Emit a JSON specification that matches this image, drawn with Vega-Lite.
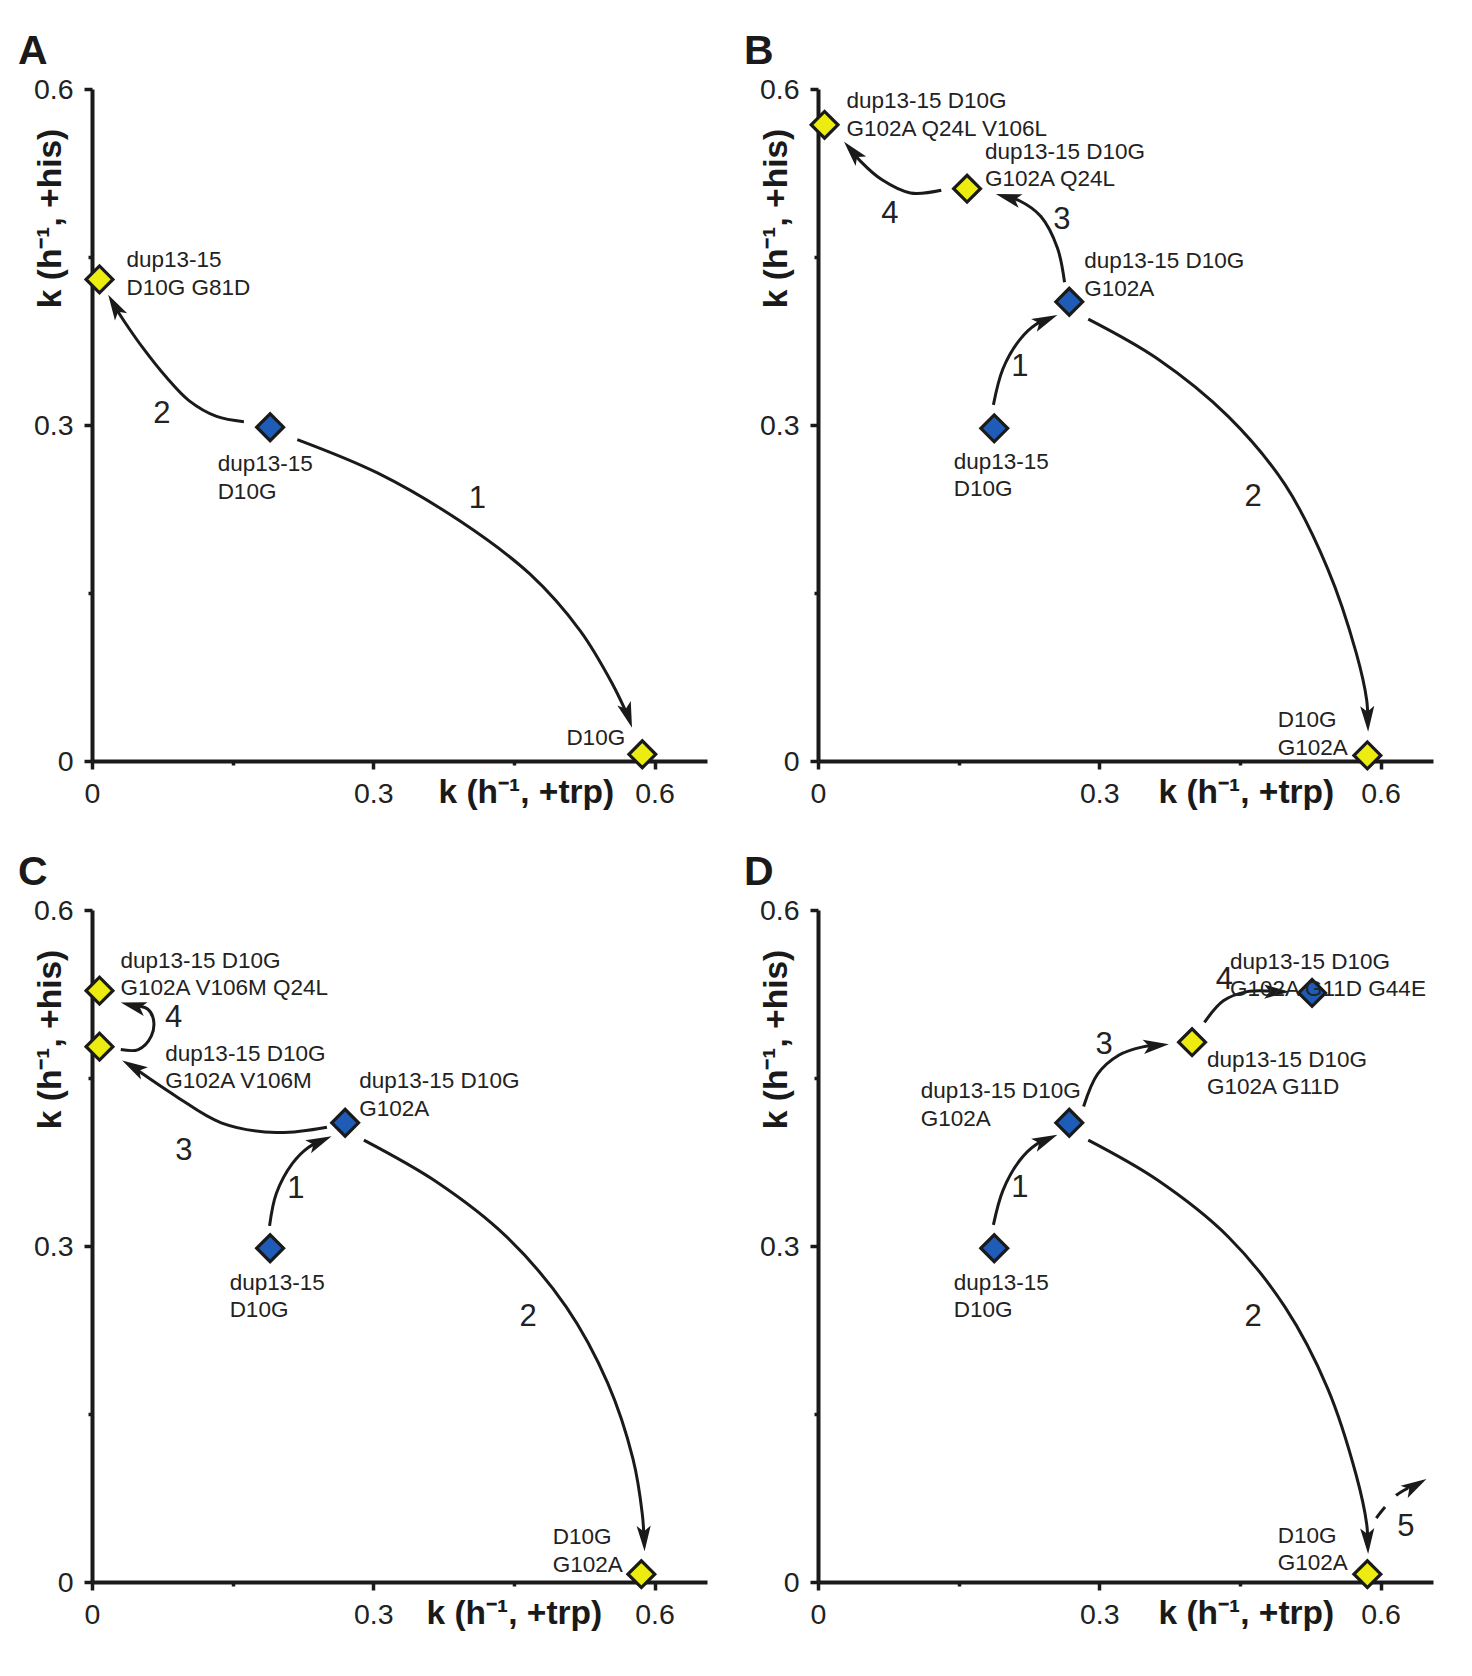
{
  "$schema": "https://vega.github.io/schema/vega-lite/v6.json",
  "background": "white",
  "padding": {"left": 18, "top": 30, "right": 5, "bottom": 5},
  "bounds": "flush",
  "columns": 2,
  "spacing": {"column": 111, "row": 149},
  "data": {"values": [
    {"panel":"A","kind":"pt","x":0.19,"y":0.298,"grp":"blue"},
    {"panel":"A","kind":"pt","x":0.008,"y":0.43,"grp":"yellow"},
    {"panel":"A","kind":"pt","x":0.587,"y":0.006,"grp":"yellow"},
    {"panel":"B","kind":"pt","x":0.188,"y":0.297,"grp":"blue"},
    {"panel":"B","kind":"pt","x":0.268,"y":0.41,"grp":"blue"},
    {"panel":"B","kind":"pt","x":0.159,"y":0.511,"grp":"yellow"},
    {"panel":"B","kind":"pt","x":0.007,"y":0.568,"grp":"yellow"},
    {"panel":"B","kind":"pt","x":0.586,"y":0.005,"grp":"yellow"},
    {"panel":"C","kind":"pt","x":0.19,"y":0.298,"grp":"blue"},
    {"panel":"C","kind":"pt","x":0.27,"y":0.41,"grp":"blue"},
    {"panel":"C","kind":"pt","x":0.008,"y":0.478,"grp":"yellow"},
    {"panel":"C","kind":"pt","x":0.008,"y":0.528,"grp":"yellow"},
    {"panel":"C","kind":"pt","x":0.586,"y":0.007,"grp":"yellow"},
    {"panel":"D","kind":"pt","x":0.188,"y":0.298,"grp":"blue"},
    {"panel":"D","kind":"pt","x":0.268,"y":0.41,"grp":"blue"},
    {"panel":"D","kind":"pt","x":0.399,"y":0.482,"grp":"yellow"},
    {"panel":"D","kind":"pt","x":0.527,"y":0.526,"grp":"blue"},
    {"panel":"D","kind":"pt","x":0.586,"y":0.007,"grp":"yellow"},

    {"panel":"A","kind":"lab","x":0.0367,"y":0.457,"txt":"dup13-15\nD10G G81D"},
    {"panel":"A","kind":"lab","x":0.134,"y":0.275,"txt":"dup13-15\nD10G"},
    {"panel":"A","kind":"lab","x":0.506,"y":0.03,"txt":"D10G"},
    {"panel":"B","kind":"lab","x":0.0303,"y":0.599,"txt":"dup13-15 D10G\nG102A Q24L V106L"},
    {"panel":"B","kind":"lab","x":0.178,"y":0.5536,"txt":"dup13-15 D10G\nG102A Q24L"},
    {"panel":"B","kind":"lab","x":0.284,"y":0.456,"txt":"dup13-15 D10G\nG102A"},
    {"panel":"B","kind":"lab","x":0.1447,"y":0.2768,"txt":"dup13-15\nD10G"},
    {"panel":"B","kind":"lab","x":0.4904,"y":0.0464,"txt":"D10G\nG102A"},
    {"panel":"C","kind":"lab","x":0.0303,"y":0.5643,"txt":"dup13-15 D10G\nG102A V106M Q24L"},
    {"panel":"C","kind":"lab","x":0.0782,"y":0.4813,"txt":"dup13-15 D10G\nG102A V106M"},
    {"panel":"C","kind":"lab","x":0.2851,"y":0.4571,"txt":"dup13-15 D10G\nG102A"},
    {"panel":"C","kind":"lab","x":0.1468,"y":0.2768,"txt":"dup13-15\nD10G"},
    {"panel":"C","kind":"lab","x":0.4915,"y":0.05,"txt":"D10G\nG102A"},
    {"panel":"D","kind":"lab","x":0.4394,"y":0.5634,"txt":"dup13-15 D10G\nG102A G11D G44E"},
    {"panel":"D","kind":"lab","x":0.4149,"y":0.4763,"txt":"dup13-15 D10G\nG102A G11D"},
    {"panel":"D","kind":"lab","x":0.1096,"y":0.4482,"txt":"dup13-15 D10G\nG102A"},
    {"panel":"D","kind":"lab","x":0.1447,"y":0.2768,"txt":"dup13-15\nD10G"},
    {"panel":"D","kind":"lab","x":0.4904,"y":0.0509,"txt":"D10G\nG102A"},

    {"panel":"A","kind":"step","x":0.0745,"y":0.31,"txt":"2"},
    {"panel":"A","kind":"step","x":0.411,"y":0.234,"txt":"1"},
    {"panel":"B","kind":"step","x":0.0767,"y":0.4885,"txt":"4"},
    {"panel":"B","kind":"step","x":0.26,"y":0.483,"txt":"3"},
    {"panel":"B","kind":"step","x":0.2153,"y":0.3515,"txt":"1"},
    {"panel":"B","kind":"step","x":0.464,"y":0.2358,"txt":"2"},
    {"panel":"C","kind":"step","x":0.087,"y":0.5034,"txt":"4"},
    {"panel":"C","kind":"step","x":0.098,"y":0.3848,"txt":"3"},
    {"panel":"C","kind":"step","x":0.2174,"y":0.3507,"txt":"1"},
    {"panel":"C","kind":"step","x":0.4653,"y":0.2366,"txt":"2"},
    {"panel":"D","kind":"step","x":0.3053,"y":0.4793,"txt":"3"},
    {"panel":"D","kind":"step","x":0.4335,"y":0.5375,"txt":"4"},
    {"panel":"D","kind":"step","x":0.2153,"y":0.3515,"txt":"1"},
    {"panel":"D","kind":"step","x":0.464,"y":0.2366,"txt":"2"},
    {"panel":"D","kind":"step","x":0.627,"y":0.0494,"txt":"5"},

    {"panel":"A","kind":"head","x":0.576,"y":0.0297,"dir":162},
    {"panel":"A","kind":"head","x":0.0173,"y":0.4164,"dir":-30},
    {"panel":"B","kind":"head","x":0.2554,"y":0.3983,"dir":66},
    {"panel":"B","kind":"head","x":0.5868,"y":0.0261,"dir":178},
    {"panel":"B","kind":"head","x":0.1897,"y":0.5063,"dir":-74},
    {"panel":"B","kind":"head","x":0.0278,"y":0.5528,"dir":-41},
    {"panel":"C","kind":"head","x":0.2556,"y":0.3979,"dir":66},
    {"panel":"C","kind":"head","x":0.5894,"y":0.0274,"dir":178},
    {"panel":"C","kind":"head","x":0.0322,"y":0.4656,"dir":-60},
    {"panel":"C","kind":"head","x":0.0307,"y":0.5174,"dir":-75},
    {"panel":"D","kind":"head","x":0.2554,"y":0.3993,"dir":66},
    {"panel":"D","kind":"head","x":0.5868,"y":0.025,"dir":178},
    {"panel":"D","kind":"head","x":0.3743,"y":0.4802,"dir":84},
    {"panel":"D","kind":"head","x":0.5033,"y":0.5271,"dir":90},
    {"panel":"D","kind":"head","x":0.649,"y":0.092,"dir":60},

    {"panel":"A","kind":"path","arrow":"A1","ord":1,"x":0.219,"y":0.287},
    {"panel":"A","kind":"path","arrow":"A1","ord":2,"x":0.305,"y":0.257},
    {"panel":"A","kind":"path","arrow":"A1","ord":3,"x":0.393,"y":0.214},
    {"panel":"A","kind":"path","arrow":"A1","ord":4,"x":0.467,"y":0.167},
    {"panel":"A","kind":"path","arrow":"A1","ord":5,"x":0.521,"y":0.116},
    {"panel":"A","kind":"path","arrow":"A1","ord":6,"x":0.555,"y":0.069},
    {"panel":"A","kind":"path","arrow":"A1","ord":7,"x":0.5727,"y":0.0382},
    {"panel":"A","kind":"path","arrow":"A2","ord":1,"x":0.162,"y":0.303},
    {"panel":"A","kind":"path","arrow":"A2","ord":2,"x":0.1329,"y":0.3077},
    {"panel":"A","kind":"path","arrow":"A2","ord":3,"x":0.1034,"y":0.3218},
    {"panel":"A","kind":"path","arrow":"A2","ord":4,"x":0.0789,"y":0.343},
    {"panel":"A","kind":"path","arrow":"A2","ord":5,"x":0.0543,"y":0.3688},
    {"panel":"A","kind":"path","arrow":"A2","ord":6,"x":0.0347,"y":0.3922},
    {"panel":"A","kind":"path","arrow":"A2","ord":7,"x":0.0223,"y":0.4085},

    {"panel":"B","kind":"path","arrow":"B1","ord":1,"x":0.1871,"y":0.318},
    {"panel":"B","kind":"path","arrow":"B1","ord":2,"x":0.1972,"y":0.35},
    {"panel":"B","kind":"path","arrow":"B1","ord":3,"x":0.2149,"y":0.3758},
    {"panel":"B","kind":"path","arrow":"B1","ord":4,"x":0.2327,"y":0.3899},
    {"panel":"B","kind":"path","arrow":"B1","ord":5,"x":0.2457,"y":0.3946},
    {"panel":"B","kind":"path","arrow":"B2","ord":1,"x":0.2883,"y":0.3946},
    {"panel":"B","kind":"path","arrow":"B2","ord":2,"x":0.3617,"y":0.3594},
    {"panel":"B","kind":"path","arrow":"B2","ord":3,"x":0.4375,"y":0.3077},
    {"panel":"B","kind":"path","arrow":"B2","ord":4,"x":0.4982,"y":0.2467},
    {"panel":"B","kind":"path","arrow":"B2","ord":5,"x":0.5437,"y":0.1716},
    {"panel":"B","kind":"path","arrow":"B2","ord":6,"x":0.5741,"y":0.0965},
    {"panel":"B","kind":"path","arrow":"B2","ord":7,"x":0.5853,"y":0.0542},
    {"panel":"B","kind":"path","arrow":"B2","ord":8,"x":0.5864,"y":0.035},
    {"panel":"B","kind":"path","arrow":"B3","ord":1,"x":0.263,"y":0.4274},
    {"panel":"B","kind":"path","arrow":"B3","ord":2,"x":0.2554,"y":0.458},
    {"panel":"B","kind":"path","arrow":"B3","ord":3,"x":0.2378,"y":0.4861},
    {"panel":"B","kind":"path","arrow":"B3","ord":4,"x":0.2149,"y":0.5002},
    {"panel":"B","kind":"path","arrow":"B3","ord":5,"x":0.1999,"y":0.5038},
    {"panel":"B","kind":"path","arrow":"B4","ord":1,"x":0.1315,"y":0.5096},
    {"panel":"B","kind":"path","arrow":"B4","ord":2,"x":0.0986,"y":0.5072},
    {"panel":"B","kind":"path","arrow":"B4","ord":3,"x":0.0683,"y":0.5189},
    {"panel":"B","kind":"path","arrow":"B4","ord":4,"x":0.0455,"y":0.5354},
    {"panel":"B","kind":"path","arrow":"B4","ord":5,"x":0.0348,"y":0.5461},

    {"panel":"C","kind":"path","arrow":"C1","ord":1,"x":0.1894,"y":0.318},
    {"panel":"C","kind":"path","arrow":"C1","ord":2,"x":0.1967,"y":0.347},
    {"panel":"C","kind":"path","arrow":"C1","ord":3,"x":0.2138,"y":0.3737},
    {"panel":"C","kind":"path","arrow":"C1","ord":4,"x":0.2311,"y":0.3882},
    {"panel":"C","kind":"path","arrow":"C1","ord":5,"x":0.2459,"y":0.3942},
    {"panel":"C","kind":"path","arrow":"C2","ord":1,"x":0.29,"y":0.3945},
    {"panel":"C","kind":"path","arrow":"C2","ord":2,"x":0.3685,"y":0.3567},
    {"panel":"C","kind":"path","arrow":"C2","ord":3,"x":0.4421,"y":0.3083},
    {"panel":"C","kind":"path","arrow":"C2","ord":4,"x":0.506,"y":0.2454},
    {"panel":"C","kind":"path","arrow":"C2","ord":5,"x":0.5501,"y":0.1775},
    {"panel":"C","kind":"path","arrow":"C2","ord":6,"x":0.5771,"y":0.1097},
    {"panel":"C","kind":"path","arrow":"C2","ord":7,"x":0.5869,"y":0.0613},
    {"panel":"C","kind":"path","arrow":"C2","ord":8,"x":0.589,"y":0.0363},
    {"panel":"C","kind":"path","arrow":"C3","ord":1,"x":0.2506,"y":0.4061},
    {"panel":"C","kind":"path","arrow":"C3","ord":2,"x":0.1967,"y":0.4013},
    {"panel":"C","kind":"path","arrow":"C3","ord":3,"x":0.1378,"y":0.41},
    {"panel":"C","kind":"path","arrow":"C3","ord":4,"x":0.0887,"y":0.4342},
    {"panel":"C","kind":"path","arrow":"C3","ord":5,"x":0.0414,"y":0.4611},
    {"panel":"C","kind":"path","arrow":"C4","ord":1,"x":0.0307,"y":0.4754},
    {"panel":"C","kind":"path","arrow":"C4","ord":2,"x":0.0494,"y":0.4754},
    {"panel":"C","kind":"path","arrow":"C4","ord":3,"x":0.0632,"y":0.4874},
    {"panel":"C","kind":"path","arrow":"C4","ord":4,"x":0.0656,"y":0.5019},
    {"panel":"C","kind":"path","arrow":"C4","ord":5,"x":0.0593,"y":0.5116},
    {"panel":"C","kind":"path","arrow":"C4","ord":6,"x":0.041,"y":0.5151},

    {"panel":"D","kind":"path","arrow":"D1","ord":1,"x":0.1871,"y":0.3189},
    {"panel":"D","kind":"path","arrow":"D1","ord":2,"x":0.1972,"y":0.3495},
    {"panel":"D","kind":"path","arrow":"D1","ord":3,"x":0.2149,"y":0.3761},
    {"panel":"D","kind":"path","arrow":"D1","ord":4,"x":0.2327,"y":0.3906},
    {"panel":"D","kind":"path","arrow":"D1","ord":5,"x":0.2457,"y":0.3956},
    {"panel":"D","kind":"path","arrow":"D2","ord":1,"x":0.2883,"y":0.3945},
    {"panel":"D","kind":"path","arrow":"D2","ord":2,"x":0.3617,"y":0.3591},
    {"panel":"D","kind":"path","arrow":"D2","ord":3,"x":0.4375,"y":0.3083},
    {"panel":"D","kind":"path","arrow":"D2","ord":4,"x":0.4982,"y":0.2454},
    {"panel":"D","kind":"path","arrow":"D2","ord":5,"x":0.5437,"y":0.1727},
    {"panel":"D","kind":"path","arrow":"D2","ord":6,"x":0.5741,"y":0.0953},
    {"panel":"D","kind":"path","arrow":"D2","ord":7,"x":0.5853,"y":0.0516},
    {"panel":"D","kind":"path","arrow":"D2","ord":8,"x":0.5864,"y":0.0339},
    {"panel":"D","kind":"path","arrow":"D3","ord":1,"x":0.2833,"y":0.4245},
    {"panel":"D","kind":"path","arrow":"D3","ord":2,"x":0.2984,"y":0.4536},
    {"panel":"D","kind":"path","arrow":"D3","ord":3,"x":0.3212,"y":0.4705},
    {"panel":"D","kind":"path","arrow":"D3","ord":4,"x":0.3465,"y":0.4778},
    {"panel":"D","kind":"path","arrow":"D3","ord":5,"x":0.3637,"y":0.4793},
    {"panel":"D","kind":"path","arrow":"D4","ord":1,"x":0.4122,"y":0.4996},
    {"panel":"D","kind":"path","arrow":"D4","ord":2,"x":0.4324,"y":0.5189},
    {"panel":"D","kind":"path","arrow":"D4","ord":3,"x":0.4578,"y":0.5271},
    {"panel":"D","kind":"path","arrow":"D4","ord":4,"x":0.4831,"y":0.5276},
    {"panel":"D","kind":"path","arrow":"D4","ord":5,"x":0.4927,"y":0.5271},
    {"panel":"D","kind":"dpath","arrow":"D5","ord":1,"x":0.5955,"y":0.0571},
    {"panel":"D","kind":"dpath","arrow":"D5","ord":2,"x":0.6051,"y":0.0672},
    {"panel":"D","kind":"dpath","arrow":"D5","ord":3,"x":0.6172,"y":0.0777},
    {"panel":"D","kind":"dpath","arrow":"D5","ord":4,"x":0.6295,"y":0.0838},
    {"panel":"D","kind":"dpath","arrow":"D5","ord":5,"x":0.6397,"y":0.0875}
  ]},
  "concat": [
    {
      "title": "A", "width": 615, "height": 672,
      "transform": [{"filter": "datum.panel === 'A'"}],
      "encoding": {
        "x": {"field": "x", "type": "quantitative", "title": "k (h⁻¹, +trp)", "scale": {"domain": [0, 0.656], "nice": false, "zero": false}, "axis": {"titleX": 346, "values": [0, 0.15, 0.3, 0.45, 0.6]}},
        "y": {"field": "y", "type": "quantitative", "title": "k (h⁻¹, +his)", "scale": {"domain": [0, 0.6], "nice": false, "zero": false}, "axis": {"values": [0, 0.15, 0.3, 0.45, 0.6]}}
      },
      "layer": [
        {"transform": [{"filter": "datum.kind === 'path'"}], "mark": {"type": "line", "interpolate": "catmull-rom", "strokeWidth": 3, "color": "#1a1a1a"}, "encoding": {"detail": {"field": "arrow"}, "order": {"field": "ord", "type": "quantitative"}}},
        {"transform": [{"filter": "datum.kind === 'dpath'"}], "mark": {"type": "line", "interpolate": "catmull-rom", "strokeWidth": 3, "color": "#1a1a1a", "strokeDash": [14, 16]}, "encoding": {"detail": {"field": "arrow"}, "order": {"field": "ord", "type": "quantitative"}}},
        {"transform": [{"filter": "datum.kind === 'head'"}], "mark": {"type": "point", "shape": "M0,0L0.55,2L0,1.55L-0.55,2Z", "filled": true, "color": "#1a1a1a", "size": 660, "opacity": 1, "strokeWidth": 0}, "encoding": {"angle": {"field": "dir", "type": "quantitative", "scale": null}}},
        {"transform": [{"filter": "datum.kind === 'pt'"}], "mark": {"type": "point", "shape": "diamond", "filled": true, "size": 720, "opacity": 1, "stroke": "#1a1a1a", "strokeWidth": 3.2}, "encoding": {"fill": {"field": "grp", "type": "nominal", "scale": {"domain": ["blue", "yellow"], "range": ["#1e5cb8", "#ecec10"]}, "legend": null}}},
        {"transform": [{"filter": "datum.kind === 'lab'"}], "mark": {"type": "text", "align": "left", "baseline": "top", "font": "Liberation Sans", "fontSize": 22.5, "lineHeight": 27.5, "color": "#222222", "lineBreak": "\n"}, "encoding": {"text": {"field": "txt"}}},
        {"transform": [{"filter": "datum.kind === 'step'"}], "mark": {"type": "text", "align": "center", "baseline": "middle", "font": "Liberation Sans", "fontSize": 31, "color": "#222222"}, "encoding": {"text": {"field": "txt"}}}
      ]
    },
    {
      "title": "B", "width": 615, "height": 672,
      "transform": [{"filter": "datum.panel === 'B'"}],
      "encoding": {
        "x": {"field": "x", "type": "quantitative", "title": "k (h⁻¹, +trp)", "scale": {"domain": [0, 0.656], "nice": false, "zero": false}, "axis": {"titleX": 340, "values": [0, 0.15, 0.3, 0.45, 0.6]}},
        "y": {"field": "y", "type": "quantitative", "title": "k (h⁻¹, +his)", "scale": {"domain": [0, 0.6], "nice": false, "zero": false}, "axis": {"values": [0, 0.15, 0.3, 0.45, 0.6]}}
      },
      "layer": [
        {"transform": [{"filter": "datum.kind === 'path'"}], "mark": {"type": "line", "interpolate": "catmull-rom", "strokeWidth": 3, "color": "#1a1a1a"}, "encoding": {"detail": {"field": "arrow"}, "order": {"field": "ord", "type": "quantitative"}}},
        {"transform": [{"filter": "datum.kind === 'dpath'"}], "mark": {"type": "line", "interpolate": "catmull-rom", "strokeWidth": 3, "color": "#1a1a1a", "strokeDash": [14, 16]}, "encoding": {"detail": {"field": "arrow"}, "order": {"field": "ord", "type": "quantitative"}}},
        {"transform": [{"filter": "datum.kind === 'head'"}], "mark": {"type": "point", "shape": "M0,0L0.55,2L0,1.55L-0.55,2Z", "filled": true, "color": "#1a1a1a", "size": 660, "opacity": 1, "strokeWidth": 0}, "encoding": {"angle": {"field": "dir", "type": "quantitative", "scale": null}}},
        {"transform": [{"filter": "datum.kind === 'pt'"}], "mark": {"type": "point", "shape": "diamond", "filled": true, "size": 720, "opacity": 1, "stroke": "#1a1a1a", "strokeWidth": 3.2}, "encoding": {"fill": {"field": "grp", "type": "nominal", "scale": {"domain": ["blue", "yellow"], "range": ["#1e5cb8", "#ecec10"]}, "legend": null}}},
        {"transform": [{"filter": "datum.kind === 'lab'"}], "mark": {"type": "text", "align": "left", "baseline": "top", "font": "Liberation Sans", "fontSize": 22.5, "lineHeight": 27.5, "color": "#222222", "lineBreak": "\n"}, "encoding": {"text": {"field": "txt"}}},
        {"transform": [{"filter": "datum.kind === 'step'"}], "mark": {"type": "text", "align": "center", "baseline": "middle", "font": "Liberation Sans", "fontSize": 31, "color": "#222222"}, "encoding": {"text": {"field": "txt"}}}
      ]
    },
    {
      "title": "C", "width": 615, "height": 672,
      "transform": [{"filter": "datum.panel === 'C'"}],
      "encoding": {
        "x": {"field": "x", "type": "quantitative", "title": "k (h⁻¹, +trp)", "scale": {"domain": [0, 0.656], "nice": false, "zero": false}, "axis": {"titleX": 334, "values": [0, 0.15, 0.3, 0.45, 0.6]}},
        "y": {"field": "y", "type": "quantitative", "title": "k (h⁻¹, +his)", "scale": {"domain": [0, 0.6], "nice": false, "zero": false}, "axis": {"values": [0, 0.15, 0.3, 0.45, 0.6]}}
      },
      "layer": [
        {"transform": [{"filter": "datum.kind === 'path'"}], "mark": {"type": "line", "interpolate": "catmull-rom", "strokeWidth": 3, "color": "#1a1a1a"}, "encoding": {"detail": {"field": "arrow"}, "order": {"field": "ord", "type": "quantitative"}}},
        {"transform": [{"filter": "datum.kind === 'dpath'"}], "mark": {"type": "line", "interpolate": "catmull-rom", "strokeWidth": 3, "color": "#1a1a1a", "strokeDash": [14, 16]}, "encoding": {"detail": {"field": "arrow"}, "order": {"field": "ord", "type": "quantitative"}}},
        {"transform": [{"filter": "datum.kind === 'head'"}], "mark": {"type": "point", "shape": "M0,0L0.55,2L0,1.55L-0.55,2Z", "filled": true, "color": "#1a1a1a", "size": 660, "opacity": 1, "strokeWidth": 0}, "encoding": {"angle": {"field": "dir", "type": "quantitative", "scale": null}}},
        {"transform": [{"filter": "datum.kind === 'pt'"}], "mark": {"type": "point", "shape": "diamond", "filled": true, "size": 720, "opacity": 1, "stroke": "#1a1a1a", "strokeWidth": 3.2}, "encoding": {"fill": {"field": "grp", "type": "nominal", "scale": {"domain": ["blue", "yellow"], "range": ["#1e5cb8", "#ecec10"]}, "legend": null}}},
        {"transform": [{"filter": "datum.kind === 'lab'"}], "mark": {"type": "text", "align": "left", "baseline": "top", "font": "Liberation Sans", "fontSize": 22.5, "lineHeight": 27.5, "color": "#222222", "lineBreak": "\n"}, "encoding": {"text": {"field": "txt"}}},
        {"transform": [{"filter": "datum.kind === 'step'"}], "mark": {"type": "text", "align": "center", "baseline": "middle", "font": "Liberation Sans", "fontSize": 31, "color": "#222222"}, "encoding": {"text": {"field": "txt"}}}
      ]
    },
    {
      "title": "D", "width": 615, "height": 672,
      "transform": [{"filter": "datum.panel === 'D'"}],
      "encoding": {
        "x": {"field": "x", "type": "quantitative", "title": "k (h⁻¹, +trp)", "scale": {"domain": [0, 0.656], "nice": false, "zero": false}, "axis": {"titleX": 340, "values": [0, 0.15, 0.3, 0.45, 0.6]}},
        "y": {"field": "y", "type": "quantitative", "title": "k (h⁻¹, +his)", "scale": {"domain": [0, 0.6], "nice": false, "zero": false}, "axis": {"values": [0, 0.15, 0.3, 0.45, 0.6]}}
      },
      "layer": [
        {"transform": [{"filter": "datum.kind === 'path'"}], "mark": {"type": "line", "interpolate": "catmull-rom", "strokeWidth": 3, "color": "#1a1a1a"}, "encoding": {"detail": {"field": "arrow"}, "order": {"field": "ord", "type": "quantitative"}}},
        {"transform": [{"filter": "datum.kind === 'dpath'"}], "mark": {"type": "line", "interpolate": "catmull-rom", "strokeWidth": 3, "color": "#1a1a1a", "strokeDash": [14, 16]}, "encoding": {"detail": {"field": "arrow"}, "order": {"field": "ord", "type": "quantitative"}}},
        {"transform": [{"filter": "datum.kind === 'head'"}], "mark": {"type": "point", "shape": "M0,0L0.55,2L0,1.55L-0.55,2Z", "filled": true, "color": "#1a1a1a", "size": 660, "opacity": 1, "strokeWidth": 0}, "encoding": {"angle": {"field": "dir", "type": "quantitative", "scale": null}}},
        {"transform": [{"filter": "datum.kind === 'pt'"}], "mark": {"type": "point", "shape": "diamond", "filled": true, "size": 720, "opacity": 1, "stroke": "#1a1a1a", "strokeWidth": 3.2}, "encoding": {"fill": {"field": "grp", "type": "nominal", "scale": {"domain": ["blue", "yellow"], "range": ["#1e5cb8", "#ecec10"]}, "legend": null}}},
        {"transform": [{"filter": "datum.kind === 'lab'"}], "mark": {"type": "text", "align": "left", "baseline": "top", "font": "Liberation Sans", "fontSize": 22.5, "lineHeight": 27.5, "color": "#222222", "lineBreak": "\n"}, "encoding": {"text": {"field": "txt"}}},
        {"transform": [{"filter": "datum.kind === 'step'"}], "mark": {"type": "text", "align": "center", "baseline": "middle", "font": "Liberation Sans", "fontSize": 31, "color": "#222222"}, "encoding": {"text": {"field": "txt"}}}
      ]
    }
  ],
  "config": {
    "view": {"stroke": null},
    "title": {"font": "Liberation Sans", "fontSize": 41, "fontWeight": "bold", "anchor": "start", "frame": "group", "dx": -74, "dy": 7.5, "color": "#1a1a1a", "baseline": "alphabetic", "offset": 10},
    "axis": {
      "grid": false,
      "labelFlush": false,
      "domainColor": "#1a1a1a", "domainWidth": 4,
      "tickColor": "#1a1a1a", "tickWidth": 3.5,
      "tickSize": {"condition": {"test": "abs(datum.value-0.15)<0.01 || abs(datum.value-0.45)<0.01", "value": 4}, "value": 8},
      "labelExpr": "(abs(datum.value-0.15)<0.01 || abs(datum.value-0.45)<0.01) ? '' : (datum.value == 0 ? '0' : format(datum.value, '.1f'))",
      "labelFont": "Liberation Sans", "labelFontSize": 28.5, "labelColor": "#222222",
      "titleFont": "Liberation Sans", "titleFontSize": 33.5, "titleFontWeight": "bold", "titleColor": "#1a1a1a"
    },
    "axisX": {"labelBaseline": "alphabetic", "labelPadding": 33, "titleAlign": "left", "titleY": 41, "titleBaseline": "alphabetic", "titleAngle": 0},
    "axisY": {"labelBaseline": "middle", "labelPadding": 11, "titleAngle": 270, "titleAlign": "center", "titleBaseline": "alphabetic", "titleX": -32, "titleY": 129}
  }
}
